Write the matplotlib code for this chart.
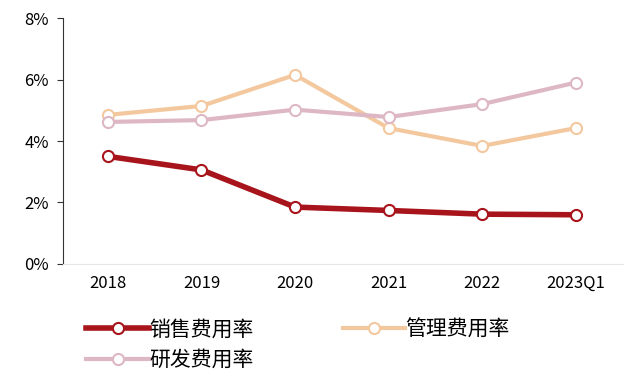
import matplotlib
matplotlib.use("Agg")
import matplotlib.pyplot as plt
from matplotlib.ticker import FuncFormatter

plt.rcParams['font.family'] = ['Noto Sans CJK SC', 'DejaVu Sans']

years = ["2018", "2019", "2020", "2021", "2022", "2023Q1"]
sales_rate = [3.5, 3.06, 1.85, 1.74, 1.62, 1.6]
admin_rate = [4.85, 5.14, 6.15, 4.42, 3.84, 4.42]
rnd_rate = [4.62, 4.68, 5.02, 4.78, 5.2, 5.9]

series = [
    ("销售费用率", sales_rate, "#A8141B", 4.0),
    ("管理费用率", admin_rate, "#F3C89E", 3.0),
    ("研发费用率", rnd_rate, "#DDB8C4", 3.0),
]

fig = plt.figure(figsize=(6.33, 3.76), dpi=100)
ax = fig.add_axes([0.0995, 0.298, 0.884, 0.654])

x = list(range(len(years)))
handles = []
for name, vals, color, lw in series:
    h, = ax.plot(x, vals, color=color, lw=lw, marker="o", ms=8,
                 mfc="white", mec=color, mew=1.5, label=name)
    handles.append(h)

ax.set_xlim(-0.48, 5.5)
ax.set_ylim(0, 8)
ax.set_yticks([0, 2, 4, 6, 8])
ax.yaxis.set_major_formatter(FuncFormatter(lambda v, p: f"{v:.0f}%"))
ax.set_xticks(x)
ax.set_xticklabels(years)
ax.tick_params(axis="both", labelsize=12, length=0, pad=8)
ax.tick_params(axis="y", length=4, direction="out", color="#333333", pad=6)
for s in ["top", "right"]:
    ax.spines[s].set_visible(False)
ax.spines["left"].set_color("#333333")
ax.spines["bottom"].set_color("#e6e6e6")

# column-major fill: sales / rnd in first column, admin in second
order = [handles[0], handles[2], handles[1]]
fig.legend(handles=order, loc="upper left", bbox_to_anchor=(0.12, 0.18),
           ncol=2, frameon=False, fontsize=15, handlelength=3.0,
           handletextpad=0.0, columnspacing=4.3, labelspacing=0.4,
           borderpad=0)

fig.savefig("out.png", dpi=100)
